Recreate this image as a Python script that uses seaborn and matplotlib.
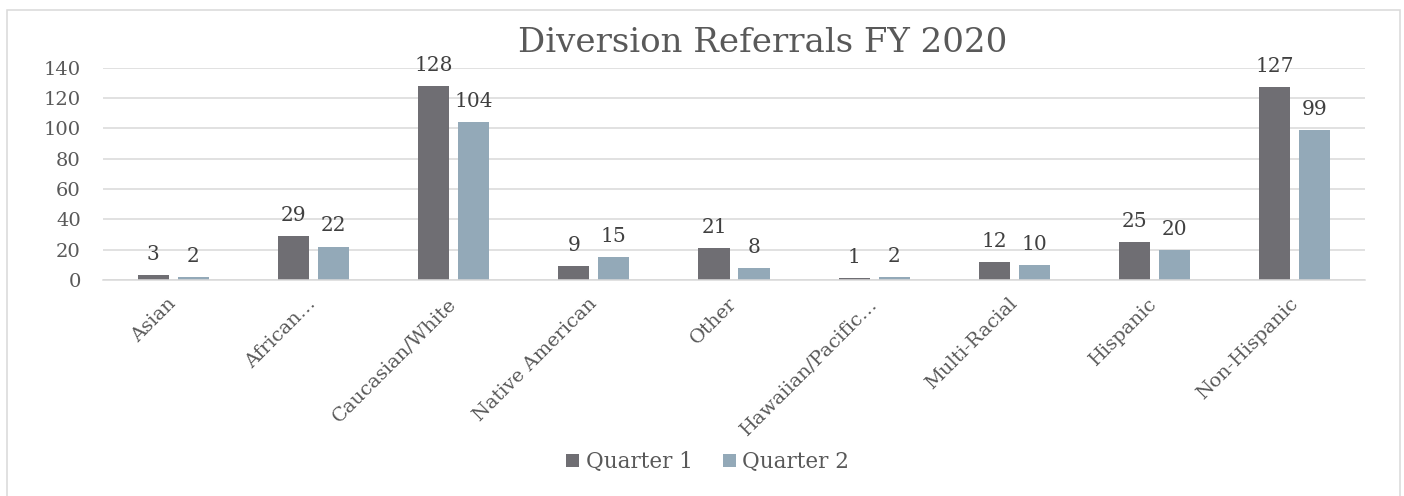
import pandas as pd
import matplotlib.pyplot as plt
import matplotlib.patches as mpatches
import seaborn as sns

# data
groups = ["Asian", "African…", "Caucasian/White", "Native American", "Other",
          "Hawaiian/Pacific…", "Multi-Racial", "Hispanic", "Non-Hispanic"]
quarter_1 = [3, 29, 128, 9, 21, 1, 12, 25, 127]
quarter_2 = [2, 22, 104, 15, 8, 2, 10, 20, 99]
series_names = ["Quarter 1", "Quarter 2"]
yticks = [0, 20, 40, 60, 80, 100, 120, 140]

df = pd.DataFrame({
    "group": groups * 2,
    "count": quarter_1 + quarter_2,
    "quarter": [series_names[0]] * len(groups) + [series_names[1]] * len(groups),
})

sns.set_style("white")
plt.rcParams["font.family"] = ["DejaVu Serif"]

grid_col = "#d9d9d9"
text_col = "#595959"

fig = plt.figure(figsize=(14.04, 4.96), dpi=100)
ax = fig.add_axes([0.0734, 0.4355, 0.8988, 0.4284])

sns.barplot(data=df, x="group", y="count", hue="quarter",
            palette=["#6f6e73", "#93a9b8"], width=0.57, gap=0.22,
            saturation=1, linewidth=0, ax=ax)

for cont in ax.containers:
    ax.bar_label(cont, padding=8, fontsize=14.5, color="#404040")

ax.set_ylim(0, 140)
ax.set_yticks(yticks)
ax.set_xlim(-0.5, len(groups) - 0.5)
ax.yaxis.grid(True, color=grid_col, linewidth=1.1)
ax.set_axisbelow(True)
for s in ["top", "right", "left"]:
    ax.spines[s].set_visible(False)
ax.spines["bottom"].set_color(grid_col)
ax.spines["bottom"].set_linewidth(1.1)
ax.set_xlabel("")
ax.set_ylabel("")
ax.tick_params(axis="y", length=0, pad=16, labelsize=14, labelcolor=text_col)
ax.tick_params(axis="x", length=0, pad=15, labelsize=14, labelcolor=text_col)
for lab in ax.get_xticklabels():
    lab.set_rotation(45)
    lab.set_ha("right")
    lab.set_va("center")
    lab.set_rotation_mode("anchor")

handles, labels = ax.get_legend_handles_labels()
ax.get_legend().remove()
fig.legend(handles, labels, loc="center", bbox_to_anchor=(0.504, 0.0685),
           ncol=2, frameon=False, fontsize=15.5, labelcolor=text_col,
           handlelength=0.6, handleheight=0.6, handletextpad=0.3,
           columnspacing=1.4)

fig.text(0.543, 1 - 52 / 496, "Diversion Referrals FY 2020", ha="center",
         va="baseline", fontsize=24.5, color=text_col)

# light border around the whole chart
fig.patches.append(mpatches.Rectangle((0.005, -0.01), 0.992, 0.99,
                                      transform=fig.transFigure, fill=False,
                                      edgecolor=grid_col, linewidth=1.1))

fig.savefig("out.png", dpi=100)
